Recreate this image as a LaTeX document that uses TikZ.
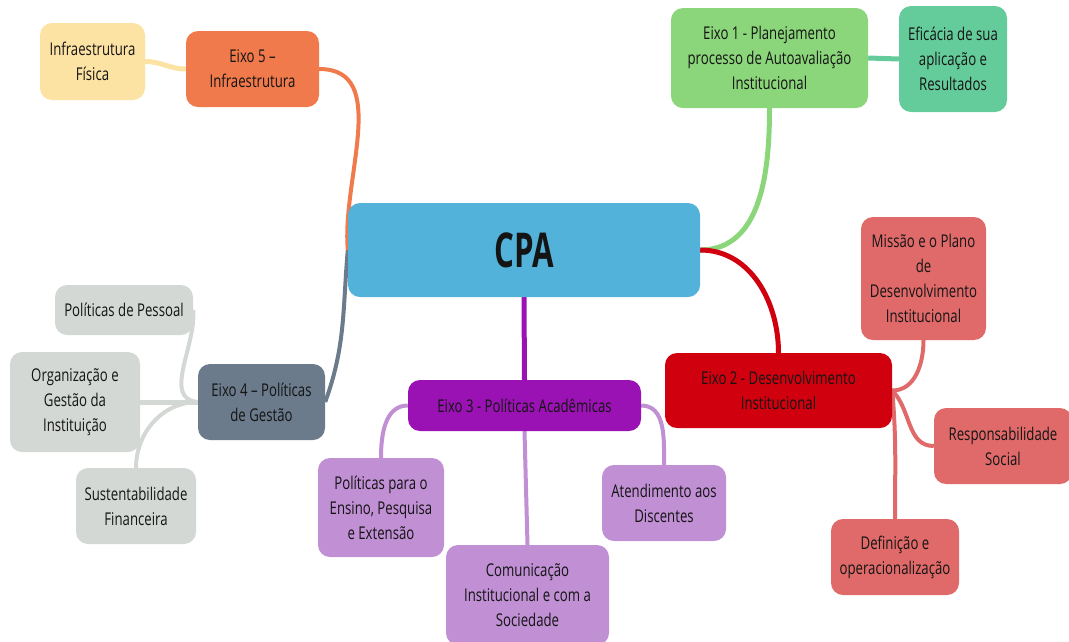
\documentclass[tikz,border=0pt]{standalone}
\usepackage{fontspec}
\setmainfont[FakeStretch=0.75]{Open Sans}
\newfontfamily\cpafont[FakeStretch=0.65]{Open Sans}
\usetikzlibrary{backgrounds}

\definecolor{cpablue}{RGB}{82,178,217}
\definecolor{orangeaxis}{RGB}{240,122,75}
\definecolor{yellowleaf}{RGB}{253,227,163}
\definecolor{greenaxis}{RGB}{139,213,122}
\definecolor{tealleaf}{RGB}{100,204,154}
\definecolor{redaxis}{RGB}{208,0,15}
\definecolor{redleaf}{RGB}{224,106,106}
\definecolor{purpleaxis}{RGB}{155,18,180}
\definecolor{purpleleaf}{RGB}{192,143,212}
\definecolor{grayaxis}{RGB}{107,123,140}
\definecolor{grayleaf}{RGB}{212,216,212}

\tikzset{box/.style={rounded corners=12pt,inner sep=0pt,align=center,
    text=black!92,font=\fontsize{17.6}{25}\selectfont}}

\begin{document}
\begin{tikzpicture}[x=1pt,y=-1pt]
  \useasboundingbox (0,0) rectangle (1069,641);

  \node[box,fill=cpablue,minimum width=352pt,minimum height=94pt,
    font=\cpafont\bfseries\fontsize{48}{50}\selectfont] (cpa) at (524,250) {CPA};

  % eixos
  \begin{scope}[every node/.style={box}]
    \node[fill=greenaxis,minimum width=197pt,minimum height=100pt] (e1) at (769.5,58)
      {Eixo 1 - Planejamento\\processo de Autoavaliação\\Institucional};
    \node[fill=redaxis,minimum width=227pt,minimum height=75pt] (e2) at (778.5,390.5)
      {Eixo 2 - Desenvolvimento\\Institucional};
    \node[fill=purpleaxis,minimum width=233pt,minimum height=51pt] (e3) at (524.5,405.5)
      {Eixo 3 - Políticas Acadêmicas};
    \node[fill=grayaxis,minimum width=127pt,minimum height=76pt] (e4) at (261.5,402)
      {Eixo 4 – Políticas\\de Gestão};
    \node[fill=orangeaxis,minimum width=133pt,minimum height=76pt] (e5) at (252.5,69)
      {Eixo 5 –\\Infraestrutura};
  \end{scope}

  % folhas
  \begin{scope}[every node/.style={box}]
    \node[fill=tealleaf,minimum width=108pt,minimum height=106pt] (efi) at (953,59)
      {Eficácia de sua\\aplicação e\\Resultados};
    \node[fill=redleaf,minimum width=125pt,minimum height=123pt] (mis) at (923.5,278.5)
      {Missão e o Plano\\de\\Desenvolvimento\\Institucional};
    \node[fill=redleaf,minimum width=138pt,minimum height=76pt] (res) at (1003,446)
      {Responsabilidade\\Social};
    \node[fill=redleaf,minimum width=128pt,minimum height=76pt] (def) at (895,557)
      {Definição e\\operacionalização};
    \node[fill=purpleleaf,minimum width=126pt,minimum height=99pt] (ens) at (381,507.5)
      {Políticas para o\\Ensino, Pesquisa\\e Extensão};
    \node[fill=purpleleaf,minimum width=163pt,minimum height=100pt] (com) at (527.5,595)
      {Comunicação\\Institucional e com a\\Sociedade};
    \node[fill=purpleleaf,minimum width=124pt,minimum height=76pt] (ate) at (664,503)
      {Atendimento aos\\Discentes};
    \node[fill=grayleaf,minimum width=138pt,minimum height=50pt] (pes) at (124,310)
      {Políticas de Pessoal};
    \node[fill=grayleaf,minimum width=130pt,minimum height=100pt] (org) at (75,402)
      {Organização e\\Gestão da\\Instituição};
    \node[fill=grayleaf,minimum width=120pt,minimum height=76pt] (sus) at (136,506)
      {Sustentabilidade\\Financeira};
    \node[fill=yellowleaf,minimum width=105pt,minimum height=77pt] (fis) at (92.5,61.5)
      {Infraestrutura\\Física};
  \end{scope}

  \begin{scope}[on background layer,every edge/.style={draw,line width=4pt}]
    \path (cpa.east) edge[greenaxis,line width=5pt,out=0,in=-90] (e1.south);
    \path (cpa.east) edge[redaxis,line width=5pt,out=0,in=90] (e2.north);
    \path (cpa.south) edge[purpleaxis,line width=5pt] (e3.north);
    \path (cpa.west) edge[grayaxis,out=-95,in=70] (e4.east);
    \path (cpa.west) edge[orangeaxis,out=95,in=0] (e5.east);

    \path (e1.east) edge[tealleaf,line width=5pt] (efi.west);
    \path (e2.east) edge[redleaf,out=0,in=-90] (mis.south);
    \path (e2.east) edge[redleaf,out=-45,in=180] (res.west);
    \path (e2.east) edge[redleaf,out=-85,in=90] (def.north);
    \path (e3.west) edge[purpleleaf,out=180,in=90] (ens.north);
    \path (e3.south) edge[purpleleaf] (com.north);
    \path (e3.east) edge[purpleleaf,out=0,in=90] (ate.north);
    \path (e4.west) edge[grayleaf,out=175,in=-85] (pes.east);
    \path (e4.west) edge[grayleaf,line width=5pt] (org.east);
    \path (e4.west) edge[grayleaf,out=180,in=90] (sus.north);
    \path (e5.west) edge[yellowleaf,line width=5pt,out=180,in=0] (fis.east);
  \end{scope}
\end{tikzpicture}
\end{document}
